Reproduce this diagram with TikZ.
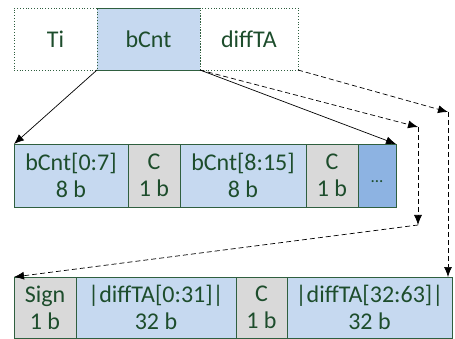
\documentclass[tikz,border=0pt]{standalone}
\usepackage{fontspec}
\setmainfont{Carlito}
\usetikzlibrary{arrows.meta}
\definecolor{txtgreen}{HTML}{1D4D2C}
\definecolor{bordgreen}{HTML}{2F5F3F}
\definecolor{lblue}{HTML}{C6D9F0}
\definecolor{dblue}{HTML}{8DB3E2}
\definecolor{lgray}{HTML}{D9D9D9}
\tikzset{
  cell/.style={draw=bordgreen, line width=0.8pt, inner sep=0pt, outer sep=0pt, text=txtgreen,
     font=\fontsize{24}{27}\selectfont, align=center},
  bluecell/.style={cell, fill=lblue},
  graycell/.style={cell, fill=lgray},
  topcell/.style={cell, dotted, minimum height=62pt},
  conn/.style={line width=0.7pt, -{Latex[length=10pt,width=8pt]}},
  dconn/.style={conn, dash pattern=on 5pt off 3pt},
}
\begin{document}
\begin{tikzpicture}[x=1pt,y=-1pt]
\useasboundingbox (0,0) rectangle (455,339);
% top row
\node[topcell, minimum width=83pt] (ti) at (55.5,39) {Ti};
\node[topcell, fill=lblue, minimum width=103pt] (bcnt) at (148.5,39) {bCnt};
\node[topcell, minimum width=98pt] (diffta) at (249,39) {diffTA};
\draw[bordgreen, line width=0.8pt] (bcnt.north west) -- (bcnt.north east);
\draw[bordgreen, line width=0.8pt] (bcnt.south west) -- (bcnt.south east);
% middle row
\node[bluecell, minimum width=114pt, minimum height=63pt] (a1) at (71,175.5) {bCnt[0:7]\\8 b};
\node[graycell, minimum width=52pt, minimum height=63pt] (c1) at (154,175.5) {C\\1 b};
\node[bluecell, minimum width=126pt, minimum height=63pt] (a2) at (243,175.5) {bCnt[8:15]\\8 b};
\node[graycell, minimum width=52pt, minimum height=63pt] (c2) at (332,175.5) {C\\1 b};
\node[cell, fill=dblue, minimum width=38pt, minimum height=63pt, text height=15pt, text depth=0pt,
      font=\fontsize{17}{17}\selectfont] (dots) at (377,175.5) {...};
% bottom row
\node[graycell, minimum width=62pt, minimum height=61pt] (s) at (45,307.5) {Sign\\1 b};
\node[bluecell, minimum width=160pt, minimum height=61pt] (d1) at (156,307.5) {|diffTA[0:31]|\\32 b};
\node[graycell, minimum width=51pt, minimum height=61pt] (c3) at (261.5,307.5) {C\\1 b};
\node[bluecell, minimum width=165pt, minimum height=61pt] (d2) at (369.5,307.5) {|diffTA[32:63]|\\32 b};
% connectors
\coordinate (k1) at (418,127);
\coordinate (k2) at (418,225);
\coordinate (k3) at (448,112);
\coordinate (k4) at (448,277);
\draw[conn] (bcnt.south west) -- (a1.north west);
\draw[conn] (bcnt.south east) -- (dots.north east);
\draw[dconn] (bcnt.south east) -- (k1);
\draw[dconn] (k1) -- (k2);
\draw[dconn] (k2) -- (s.north west);
\draw[dconn] (diffta.south east) -- (k3);
\draw[dconn] (k3) -- (k4);
\end{tikzpicture}
\end{document}
